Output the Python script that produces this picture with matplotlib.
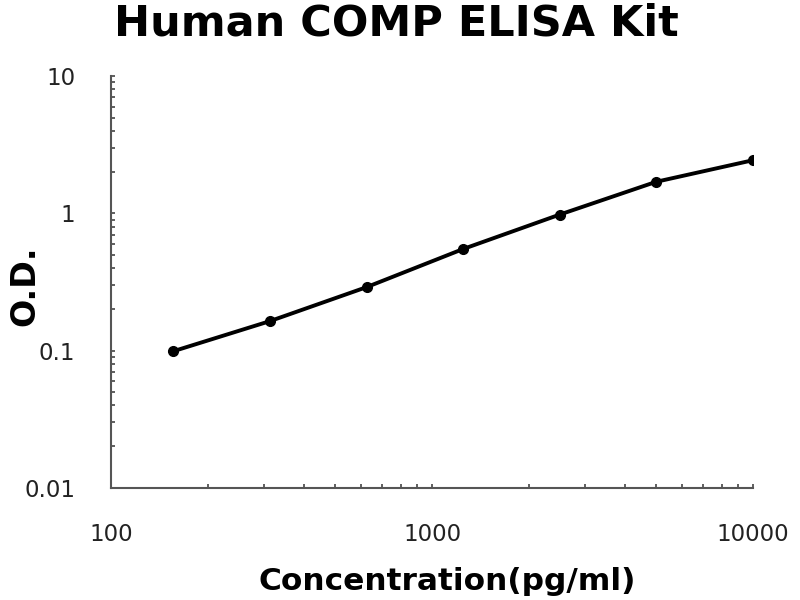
import matplotlib
matplotlib.use("Agg")
import matplotlib.pyplot as plt
from matplotlib.ticker import LogLocator, FixedLocator, FixedFormatter, NullFormatter

# standard curve
conc = [156.25, 312.5, 625, 1250, 2500, 5000, 10000]
od = [0.099, 0.164, 0.29, 0.55, 0.98, 1.70, 2.44]

x_ticks = [100, 1000, 10000]
x_labels = ['100', '1000', '10000']
y_ticks = [0.01, 0.1, 1, 10]
y_labels = ['0.01', '0.1', '1', '10']

fig = plt.figure(figsize=(8, 6), dpi=100)
ax = fig.add_axes([0.139, 0.187, 0.802, 0.686])

ax.plot(conc, od, color='black', lw=2.8, marker='o', ms=7)

ax.set_xscale('log')
ax.set_yscale('log')
ax.set_xlim(100, 10000)
ax.set_ylim(0.01, 10)

ax.xaxis.set_major_locator(FixedLocator(x_ticks))
ax.xaxis.set_major_formatter(FixedFormatter(x_labels))
ax.yaxis.set_major_locator(FixedLocator(y_ticks))
ax.yaxis.set_major_formatter(FixedFormatter(y_labels))
ax.xaxis.set_minor_locator(LogLocator(base=10, subs=range(2, 10)))
ax.yaxis.set_minor_locator(LogLocator(base=10, subs=range(2, 10)))
ax.xaxis.set_minor_formatter(NullFormatter())
ax.yaxis.set_minor_formatter(NullFormatter())

ax.tick_params(which='both', direction='in', color='#444444', width=1.2)
ax.tick_params(which='major', length=3)
ax.tick_params(which='minor', length=3)
ax.tick_params(axis='x', which='major', pad=25, labelsize=16.5, labelcolor='#222222')
ax.tick_params(axis='y', which='major', pad=26, labelsize=16.5, labelcolor='#222222')

for s in ['top', 'right']:
    ax.spines[s].set_visible(False)
for s in ['left', 'bottom']:
    ax.spines[s].set_color('#555555')
    ax.spines[s].set_linewidth(1.5)

fig.text(0.496, 0.94, 'Human COMP ELISA Kit', ha='center', va='baseline',
         fontsize=31, fontweight='bold', family='DejaVu Sans')
ax.set_xlabel('Concentration(pg/ml)', fontsize=22.5, fontweight='bold', va='baseline')
ax.set_ylabel('O.D.', fontsize=24, fontweight='bold', va='center')
ax.xaxis.set_label_coords(0.523, -0.248)
ax.yaxis.set_label_coords(-0.134, 0.49)

fig.savefig('out.png', dpi=100)
